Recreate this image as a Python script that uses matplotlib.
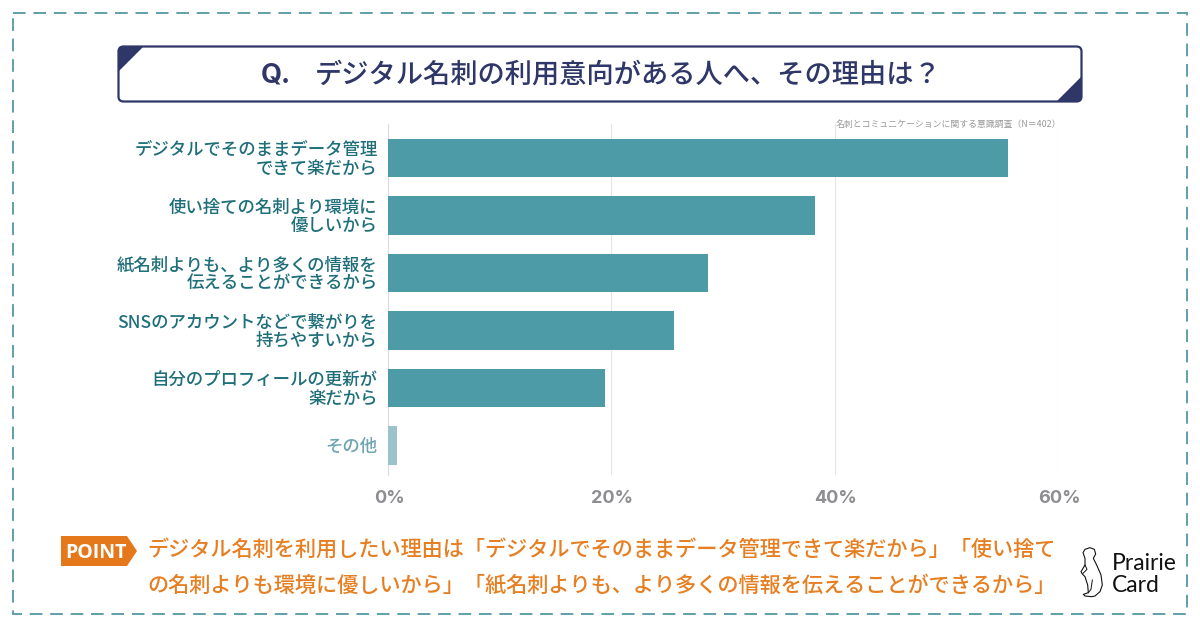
import matplotlib
matplotlib.use("Agg")
import matplotlib.pyplot as plt
from matplotlib.patches import FancyBboxPatch, Polygon, Rectangle
from matplotlib.transforms import ScaledTranslation

JP = ['Noto Sans CJK JP', 'DejaVu Sans']
plt.rcParams['font.family'] = JP

categories = [
    "デジタルでそのままデータ管理\nできて楽だから",
    "使い捨ての名刺より環境に\n優しいから",
    "紙名刺よりも、より多くの情報を\n伝えることができるから",
    "SNSのアカウントなどで繋がりを\n持ちやすいから",
    "自分のプロフィールの更新が\n楽だから",
    "その他",
]
values = [55.5, 38.2, 28.7, 25.6, 19.4, 0.8]
xticks = [0, 20, 40, 60]
xticklabels = ["0%", "20%", "40%", "60%"]
title = "デジタル名刺の利用意向がある人へ、その理由は？"
source = "名刺とコミュニケーションに関する意識調査（N＝402）"
point1 = "デジタル名刺を利用したい理由は「デジタルでそのままデータ管理できて楽だから」「使い捨て"
point2 = "の名刺よりも環境に優しいから」「紙名刺よりも、より多くの情報を伝えることができるから」"

W, H = 1200, 628
NAVY = "#2f3768"
TEAL = "#4d9ba6"
TEAL_L = "#9cc3cc"
LABEL = "#1f6f7a"
LABEL_L = "#6fa5b0"
ORANGE = "#e67f22"
TAG = "#e5781a"
GRAY = "#8e8e92"

fig = plt.figure(figsize=(W / 100, H / 100), dpi=100, facecolor="white")

bg = fig.add_axes([0, 0, 1, 1])
bg.set_xlim(0, W)
bg.set_ylim(H, 0)
bg.axis("off")

bg.add_patch(Rectangle((13, 13), 1174, 601, fill=False, ec="#5f9fa9", lw=1.4,
                       ls=(0, (6.5, 4))))
bg.add_patch(FancyBboxPatch((118.5, 46.5), 963, 55, boxstyle="round,pad=0,rounding_size=5",
                            fc="white", ec=NAVY, lw=1.6))
bg.add_patch(Polygon([(119, 47), (143, 47), (119, 71)], fc=NAVY, ec="none"))
bg.add_patch(Polygon([(1081, 101), (1057, 101), (1081, 77)], fc=NAVY, ec="none"))
bg.text(261, 76, "Q.", fontsize=19.5, fontweight="bold", color=NAVY, ha="left", va="center",
        family=['Inter', 'DejaVu Sans'])
bg.text(315, 75, title, fontsize=19.6, fontweight="medium", color=NAVY, ha="left", va="center")

bg.add_patch(Polygon([(61, 536), (127, 536), (137, 551), (127, 566), (61, 566)], fc=TAG, ec="none"))
bg.text(96, 552.5, "POINT", fontsize=14, fontweight="bold", color="white", ha="center", va="center",
        family=['Open Sans', 'DejaVu Sans'])
bg.text(147, 550, point1, fontsize=15.25, fontweight="medium", color=ORANGE, ha="left", va="center")
bg.text(147, 586, point2, fontsize=15.25, fontweight="medium", color=ORANGE, ha="left", va="center")


def logo_pt(p):
    return (1075 + p[0] / 3, 540 + p[1] / 3)


outline = [(24, 38), (30, 28), (45, 23), (58, 28), (62, 42), (55, 55), (65, 75), (78, 105), (82, 135),
           (75, 155), (60, 168), (50, 170), (30, 168), (25, 163), (40, 158), (38, 135), (30, 110),
           (22, 102), (18, 95), (30, 75), (30, 55)]
arm = [(30, 75), (36, 88), (24, 100)]
leg = [(52, 120), (48, 148), (40, 158)]
bg.add_patch(Polygon([logo_pt(p) for p in outline], fill=False, ec="#111111", lw=0.8, joinstyle="round"))
bg.plot(*zip(*[logo_pt(p) for p in arm]), color="#111111", lw=0.7)
bg.plot(*zip(*[logo_pt(p) for p in leg]), color="#111111", lw=0.7)
bg.set_xlim(0, W)
bg.set_ylim(H, 0)
bg.text(1112, 563, "Prairie", fontsize=16.5, color="#111111", ha="left", va="center",
        family=['Lato', 'DejaVu Sans'])
bg.text(1112, 585, "Card", fontsize=16.5, color="#111111", ha="left", va="center",
        family=['Lato', 'DejaVu Sans'])

top, bottom, left, right = 124, 475, 388, 1058
ax = fig.add_axes([left / W, 1 - bottom / H, (right - left) / W, (bottom - top) / H])
ax.patch.set_alpha(0)
pos = list(range(len(values)))
colors = [TEAL] * 5 + [TEAL_L]
ax.barh(pos, values, height=0.67, color=colors, zorder=3)
ax.set_xlim(0, 60)
ax.set_ylim(5 + 29.5 / 57.6, -34 / 57.6)
ax.set_xticks(xticks)
ax.set_xticklabels(xticklabels, fontsize=13, fontweight="bold", color=GRAY,
                   family=['Inter', 'DejaVu Sans'])
ax.set_yticks(pos)
ax.set_yticklabels(categories, fontsize=12.55, fontweight="medium", linespacing=1.05, ha="right")
for lab, c in zip(ax.get_yticklabels(), [LABEL] * 5 + [LABEL_L]):
    lab.set_color(c)
ax.tick_params(axis="both", length=0)
ax.tick_params(axis="y", pad=7.5)
ax.tick_params(axis="x", pad=10.5)
ax.xaxis.grid(True, color="#e6e6ea", lw=0.8, zorder=0)
ax.yaxis.grid(False)
for s in ("top", "right", "bottom"):
    ax.spines[s].set_visible(False)
ax.spines["left"].set_color("#dcdce0")
ax.spines["left"].set_linewidth(0.8)

for lab in ax.get_yticklabels():
    lab.set_transform(lab.get_transform() + ScaledTranslation(0, 1 / 100, fig.dpi_scale_trans))
for lab in ax.get_xticklabels():
    lab.set_transform(lab.get_transform() + ScaledTranslation(1 / 100, 0, fig.dpi_scale_trans))

bg.text(1061, 124, source, fontsize=6.4, color="#999999", ha="right", va="center")

fig.savefig("out.png", dpi=100)
